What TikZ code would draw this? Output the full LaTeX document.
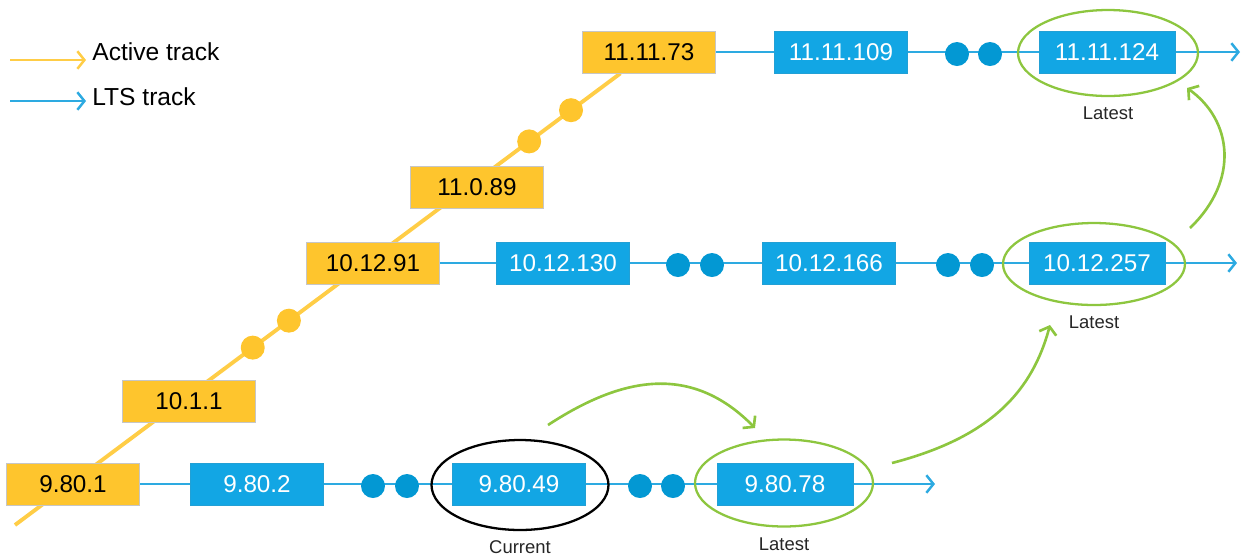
\documentclass[tikz,border=0pt]{standalone}
\usepackage{fontspec}
\setmainfont{Liberation Sans}
\usetikzlibrary{shapes.geometric, arrows.meta, positioning, backgrounds, calc}
\definecolor{clryellow}{RGB}{254,197,45}
\definecolor{clryline}{RGB}{255,205,70}
\definecolor{clrblue}{RGB}{18,166,228}
\definecolor{clrdot}{RGB}{3,152,211}
\definecolor{clrbline}{RGB}{45,170,225}
\definecolor{clrgreen}{RGB}{141,198,63}
\tikzset{
    actbox/.style={rectangle, draw=gray!45, line width=0.4pt, fill=clryellow,
                   minimum width=2.66cm, minimum height=0.84cm, inner sep=0pt,
                   font=\fontsize{13.8}{16}\selectfont, text=black},
    ltsbox/.style={actbox, fill=clrblue, draw=clrblue!85!gray, text=white},
    ltsdot/.style={circle, fill=clrdot, minimum size=0.48cm, inner sep=0pt},
    actdot/.style={circle, fill=clryellow, minimum size=0.48cm, inner sep=0pt},
    actline/.style={line width=2.2pt, draw=clryline},
    ltsline/.style={line width=1.5pt, draw=clrbline},
    ltsarrow/.style={ltsline, -{Straight Barb[length=4pt, width=10pt, line width=1.4pt]}},
    actarrow/.style={actline, line width=1.6pt, -{Straight Barb[length=4pt, width=10pt, line width=1.4pt]}},
    ring/.style={ellipse, draw=#1, line width=1.3pt, inner sep=0pt},
    hop/.style={line width=1.5pt, draw=clrgreen, -{Straight Barb[length=4pt, width=10pt, line width=1.5pt]}},
    tag/.style={font=\fontsize{10.5}{12}\selectfont, text=black!85},
    legtext/.style={font=\fontsize{14}{16}\selectfont, inner sep=0pt, anchor=west},
}
\begin{document}
\begin{tikzpicture}[x=0.02cm, y=-0.02cm]
    \useasboundingbox (0,0) rectangle (1249,556);

    % legend
    \coordinate (legA1) at (10,60);
    \coordinate (legA2) at (86,60);
    \coordinate (legB1) at (10,101);
    \coordinate (legB2) at (86,101);
    \draw[actarrow] (legA1) -- (legA2);
    \draw[ltsarrow] (legB1) -- (legB2);
    \node[legtext] (legact) at (92,52) {Active track};
    \node[legtext] (leglts) at (92,97) {LTS track};

    % active track
    \coordinate (ystart) at (15,525);
    \node[actbox] (v9801) at (73,484) {9.80.1};
    \node[actbox] (v1011) at (189,401) {10.1.1};
    \node[actbox] (v101291) at (373,263) {10.12.91};
    \node[actbox] (v11089) at (477,187) {11.0.89};
    \node[actbox] (v111173) at (649,52) {11.11.73};
    \node[actdot] (yd1) at ($(ystart)!0.375!(v111173)$) {};
    \node[actdot] (yd2) at ($(ystart)!0.432!(v111173)$) {};
    \node[actdot] (yd3) at ($(ystart)!0.811!(v111173)$) {};
    \node[actdot] (yd4) at ($(ystart)!0.877!(v111173)$) {};

    % LTS 9.80
    \node[ltsbox] (v9802) at (257,484) {9.80.2};
    \node[ltsdot] (ad1) at (373,486) {};
    \node[ltsdot] (ad2) at (407,486) {};
    \node[ltsbox] (v98049) at (519,484) {9.80.49};
    \node[ltsdot] (ad3) at (640,486) {};
    \node[ltsdot] (ad4) at (673,486) {};
    \node[ltsbox, minimum width=2.72cm] (v98078) at (785,484) {9.80.78};
    \coordinate (aend) at (935,484);
    \node[ring=black, minimum width=3.54cm, minimum height=1.8cm] (cur) at (520,485) {};
    \node[ring=clrgreen, minimum width=3.56cm, minimum height=1.74cm] (lat1) at (784,483) {};
    \node[tag, below=2pt of cur] (curlbl) {Current};
    \node[tag, below=2pt of lat1] (lat1lbl) {Latest};

    % LTS 10.12
    \node[ltsbox] (v1012130) at (563,263) {10.12.130};
    \node[ltsdot] (bd1) at (678,265) {};
    \node[ltsdot] (bd2) at (712,265) {};
    \node[ltsbox] (v1012166) at (829,263) {10.12.166};
    \node[ltsdot] (bd3) at (948,265) {};
    \node[ltsdot] (bd4) at (982,265) {};
    \node[ltsbox, minimum width=2.72cm] (v1012257) at (1097,263) {10.12.257};
    \coordinate (bend) at (1237,263);
    \node[ring=clrgreen, minimum width=3.64cm, minimum height=1.64cm] (lat2) at (1094,264) {};
    \node[tag, below=2pt of lat2] (lat2lbl) {Latest};

    % LTS 11.11
    \node[ltsbox] (v1111109) at (841,52) {11.11.109};
    \node[ltsdot] (cd1) at (957,54) {};
    \node[ltsdot] (cd2) at (990,54) {};
    \node[ltsbox, minimum width=2.72cm] (v1111124) at (1107,52) {11.11.124};
    \coordinate (cend) at (1240,52);
    \node[ring=clrgreen, minimum width=3.6cm, minimum height=1.72cm] (lat3) at (1108,53) {};
    \node[tag, below=2pt of lat3] (lat3lbl) {Latest};

    \begin{scope}[on background layer]
        \draw[actline] (ystart) -- (v111173);
        \draw[ltsarrow] (v9801) -- (v9802) -- (v98049) -- (v98078) -- (aend);
        \draw[ltsarrow] (v101291) -- (v1012130) -- (v1012166) -- (v1012257) -- (bend);
        \draw[ltsarrow] (v111173) -- (v1111109) -- (v1111124) -- (cend);
    \end{scope}

    % upgrade hops
    \coordinate (h1s) at (548,425);
    \coordinate (h1e) at (755,428);
    \coordinate (h2s) at (892,463);
    \coordinate (h2e) at (1050,325);
    \coordinate (h3s) at (1190,228);
    \coordinate (h3e) at (1187,88);
    \draw[hop] (h1s) .. controls (620,378) and (690,362) .. (h1e);
    \draw[hop] (h2s) .. controls (980,440) and (1030,400) .. (h2e);
    \draw[hop] (h3s) .. controls (1240,180) and (1232,120) .. (h3e);
\end{tikzpicture}
\end{document}
